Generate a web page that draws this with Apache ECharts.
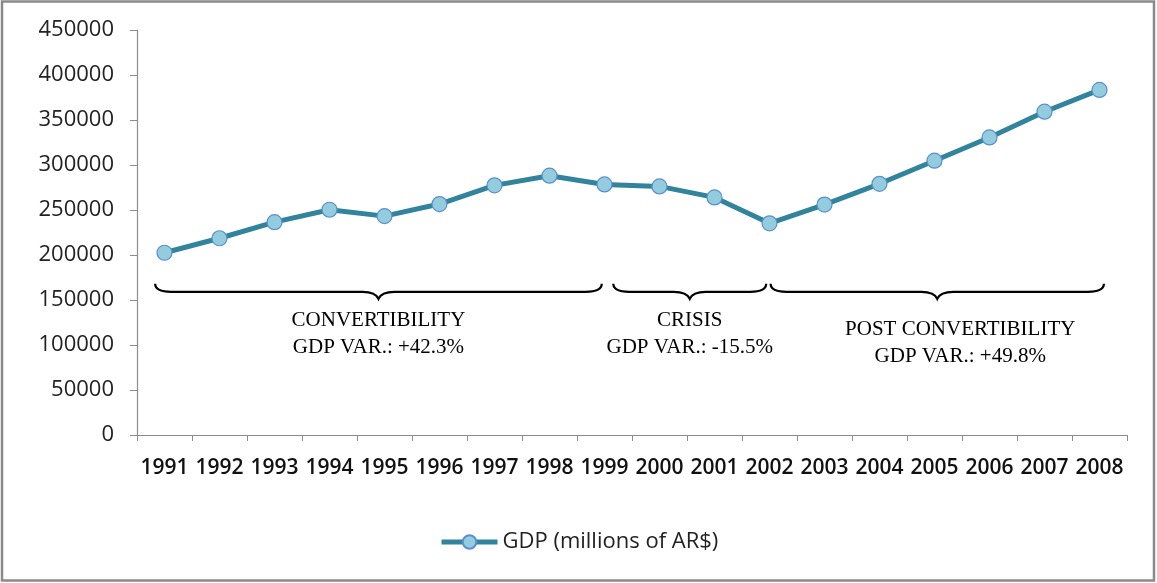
<!DOCTYPE html>
<html>
<head>
<meta charset="utf-8">
<title>GDP Argentina</title>
<script src="https://cdn.jsdelivr.net/npm/echarts@6/dist/echarts.min.js"></script>
<style>
    html, body { margin: 0; padding: 0; background: #fff; }
    #main { width: 1157px; height: 583px; }
</style>
</head>
<body>
<div id="main"></div>
<script>
// data
const years = ['1991', '1992', '1993', '1994', '1995', '1996', '1997', '1998', '1999',
    '2000', '2001', '2002', '2003', '2004', '2005', '2006', '2007', '2008'];
const gdp = [202500, 218600, 236500, 250300, 243200, 256600, 277400, 288100, 278400,
    276200, 264000, 235200, 256000, 279100, 304800, 330600, 359200, 383400];
const yTicks = [0, 50000, 100000, 150000, 200000, 250000, 300000, 350000, 400000, 450000];

// periods marked with braces under the line
const periodNames = ['CONVERTIBILITY', 'CRISIS', 'POST CONVERTIBILITY'];
const periodVar = ['+42.3%', '-15.5%', '+49.8%'];
const periodFrom = ['1991', '1999', '2002'];
const periodTo = ['1999', '2002', '2008'];
const braceLevel = 168000;

let mychart = echarts.init(document.getElementById('main'));

const calibri = '"Open Sans", sans-serif';

// brace + caption drawn through the axes
const renderBrace = (params, api) => {
    const i = params.dataIndex;
    const a = years.indexOf(periodFrom[i]);
    const b = years.indexOf(periodTo[i]);
    const bw = api.size([1, 0])[0];
    const p0 = api.coord([a, braceLevel]);
    const p1 = api.coord([b, braceLevel]);
    // small inset so neighbouring braces don't touch
    const trims = [[-0.17, -0.05], [0.16, -0.06], [0.02, 0.08]];
    const x0 = p0[0] + trims[i][0] * bw;
    const x1 = p1[0] + trims[i][1] * bw;
    const y = p0[1];
    const xm = (x0 + x1) / 2;
    const d = 8, t = 7, r = 16;
    const path = 'M' + x0 + ' ' + y +
        ' Q' + x0 + ' ' + (y + d) + ' ' + (x0 + r) + ' ' + (y + d) +
        ' L' + (xm - r) + ' ' + (y + d) +
        ' Q' + (xm - 3) + ' ' + (y + d) + ' ' + xm + ' ' + (y + d + t) +
        ' Q' + (xm + 3) + ' ' + (y + d) + ' ' + (xm + r) + ' ' + (y + d) +
        ' L' + (x1 - r) + ' ' + (y + d) +
        ' Q' + x1 + ' ' + (y + d) + ' ' + x1 + ' ' + y;
    // the last caption sits a bit lower and to the right of its brace
    const dy = i === 2 ? 9 : 0;
    const dx = i === 2 ? 23 : 0;
    return {
        type: 'group',
        children: [
            {
                type: 'path',
                shape: { pathData: path },
                style: { fill: null, stroke: '#000', lineWidth: 2.2 }
            },
            {
                type: 'text',
                style: {
                    text: periodNames[i] + '\nGDP VAR.: ' + periodVar[i],
                    x: xm + dx,
                    y: y + d + t + 8 + dy,
                    align: 'center',
                    verticalAlign: 'top',
                    font: '21px "Liberation Serif", serif',
                    lineHeight: 27,
                    fill: '#000'
                }
            }
        ]
    };
};

var option = {
    animation: false,
    graphic: [
        {
            type: 'rect',
            shape: { x: 2, y: 1.5, width: 1152, height: 579 },
            style: { fill: null, stroke: '#8a8a8a', lineWidth: 2.5 },
            silent: true
        }
    ],
    grid: {
        left: 137,
        right: 30,
        top: 30,
        bottom: 148,
        containLabel: false
    },
    legend: {
        bottom: 25,
        left: 434,
        itemWidth: 56,
        itemHeight: 17,
        itemGap: 6,
        lineStyle: { width: 5 },
        textStyle: { fontFamily: calibri, fontSize: 22, color: '#222' },
        data: ['GDP (millions of AR$)']
    },
    xAxis: {
        type: 'category',
        data: years,
        boundaryGap: true,
        axisLine: { lineStyle: { color: '#8c8c8c', width: 1.2 } },
        axisTick: { show: true, length: 6, alignWithLabel: false, lineStyle: { color: '#8c8c8c' } },
        axisLabel: {
            interval: 0,
            margin: 23,
            fontFamily: calibri,
            fontSize: 21,
            fontWeight: 600,
            color: '#111'
        }
    },
    yAxis: {
        type: 'value',
        min: yTicks[0],
        max: yTicks[yTicks.length - 1],
        interval: 50000,
        splitLine: { show: false },
        axisLine: { show: true, lineStyle: { color: '#8c8c8c', width: 1.2 } },
        axisTick: { show: true, length: 7, lineStyle: { color: '#8c8c8c' } },
        axisLabel: {
            margin: 23,
            fontFamily: calibri,
            fontSize: 22,
            color: '#222',
            formatter: (v) => String(v)
        }
    },
    series: [
        {
            name: 'GDP (millions of AR$)',
            type: 'line',
            data: gdp,
            symbol: 'circle',
            symbolSize: 15,
            lineStyle: { color: '#31849b', width: 5 },
            itemStyle: { color: '#93cddd', borderColor: '#5b8fd0', borderWidth: 1.2 },
            z: 3
        },
        {
            name: 'periods',
            type: 'custom',
            data: periodNames.map((p, i) => [i, braceLevel]),
            renderItem: renderBrace,
            silent: true,
            z: 2
        }
    ]
};

mychart.setOption(option);

window.addEventListener('resize', () => {
    mychart.resize();
});
</script>
</body>
</html>
